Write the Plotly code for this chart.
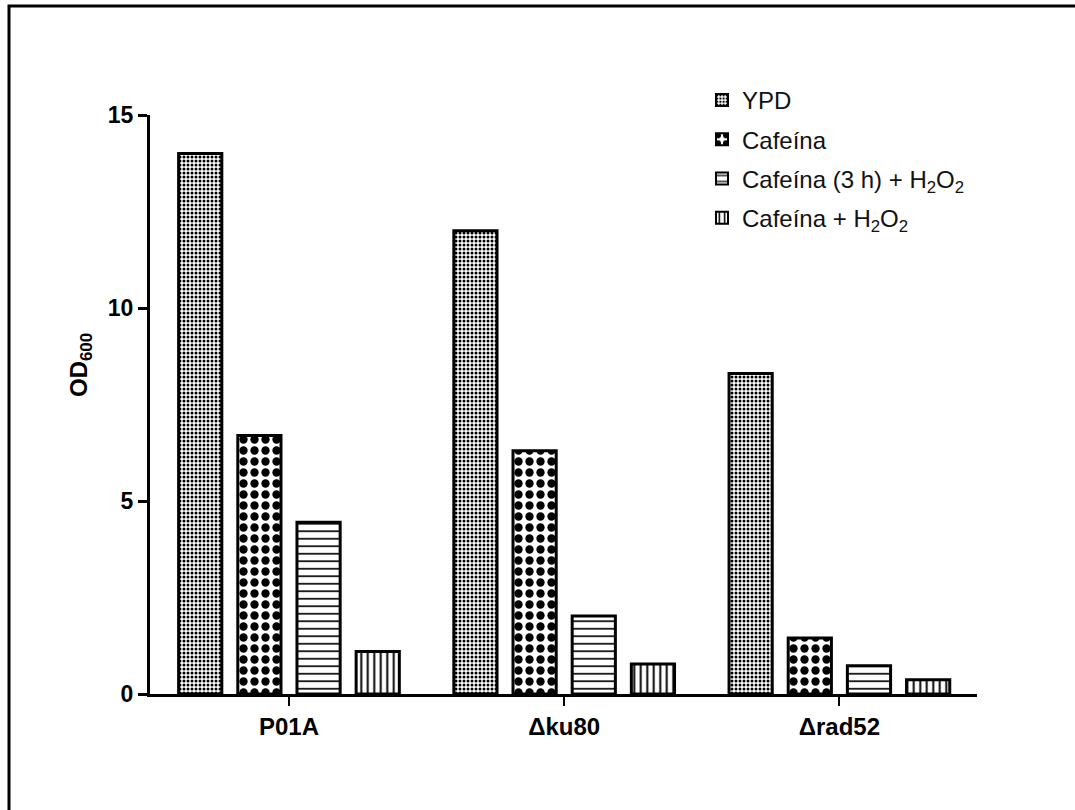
import plotly.graph_objects as go

categories = ["P01A", "Δku80", "Δrad52"]
series_names = ["YPD", "Cafeína", "Cafeína (3 h) + H<sub>2</sub>O<sub>2</sub>", "Cafeína + H<sub>2</sub>O<sub>2</sub>"]
ypd = [14.0, 12.0, 8.3]
cafeina = [6.7, 6.3, 1.45]
cafeina_3h_h2o2 = [4.45, 2.02, 0.73]
cafeina_h2o2 = [1.1, 0.78, 0.37]
y_ticks = [0, 5, 10, 15]

series = [ypd, cafeina, cafeina_3h_h2o2, cafeina_h2o2]
patterns = [
    dict(shape=".", size=4, solidity=0.45, fgcolor="black", bgcolor="white", fillmode="replace"),
    dict(shape=".", size=11, solidity=0.45, fgcolor="black", bgcolor="white", fillmode="replace"),
    dict(shape="-", size=7.5, solidity=0.22, fgcolor="black", bgcolor="white", fillmode="replace"),
    dict(shape="|", size=6.5, solidity=0.3, fgcolor="black", bgcolor="white", fillmode="replace"),
]

W, H = 1075, 810
L, R, T, B = 150, 98, 115, 116

fig = go.Figure()
for name, vals, pat in zip(series_names, series, patterns):
    fig.add_trace(go.Bar(
        x=categories, y=vals, name=name, legendgroup=name,
        marker=dict(color="white", line=dict(color="black", width=3), pattern=pat),
    ))

font_family = "Arial, Liberation Sans, sans-serif"
pw = W - L - R
ph = H - T - B

fig.update_layout(
    width=W, height=H,
    margin=dict(l=L, r=R, t=T, b=B),
    paper_bgcolor="white", plot_bgcolor="white",
    barmode="group", bargap=0.14, bargroupgap=0.27,
    font=dict(family=font_family, color="black"),
    showlegend=True,
    legend=dict(
        x=(702 - L) / pw, y=(H - B - 78) / ph, xanchor="left", yanchor="top",
        font=dict(size=24, family=font_family, color="#111"),
        bgcolor="rgba(0,0,0,0)", tracegroupgap=5, itemsizing="constant",
    ),
    xaxis=dict(
        range=[-0.505, 2.50], showline=True, linecolor="black", linewidth=3,
        ticks="outside", ticklen=9, tickwidth=2, tickcolor="black",
        tickfont=dict(size=24, family=font_family, color="black", weight="bold"),
        showgrid=False, zeroline=False,
    ),
    yaxis=dict(
        range=[0, 15], tickvals=y_ticks, showline=True, linecolor="black", linewidth=3,
        ticks="outside", ticklen=9, tickwidth=3, tickcolor="black",
        tickfont=dict(size=23, family=font_family, color="black", weight="bold"),
        showgrid=False, zeroline=False,
    ),
    annotations=[dict(
        text="OD<sub>600</sub>", textangle=-90, showarrow=False,
        xref="paper", yref="paper", x=(80 - L) / pw, y=(H - B - 365) / ph,
        xanchor="center", yanchor="middle",
        font=dict(size=24, family=font_family, color="black", weight="bold"),
    )],
    shapes=[dict(
        type="rect", xref="paper", yref="paper",
        x0=(9 - L) / pw, x1=(W + 20 - L) / pw,
        y0=(H - B - (H + 20)) / ph, y1=(H - B - 6) / ph,
        line=dict(color="black", width=3), fillcolor="rgba(0,0,0,0)", layer="below",
    )],
)

fig.write_html("out.html")
